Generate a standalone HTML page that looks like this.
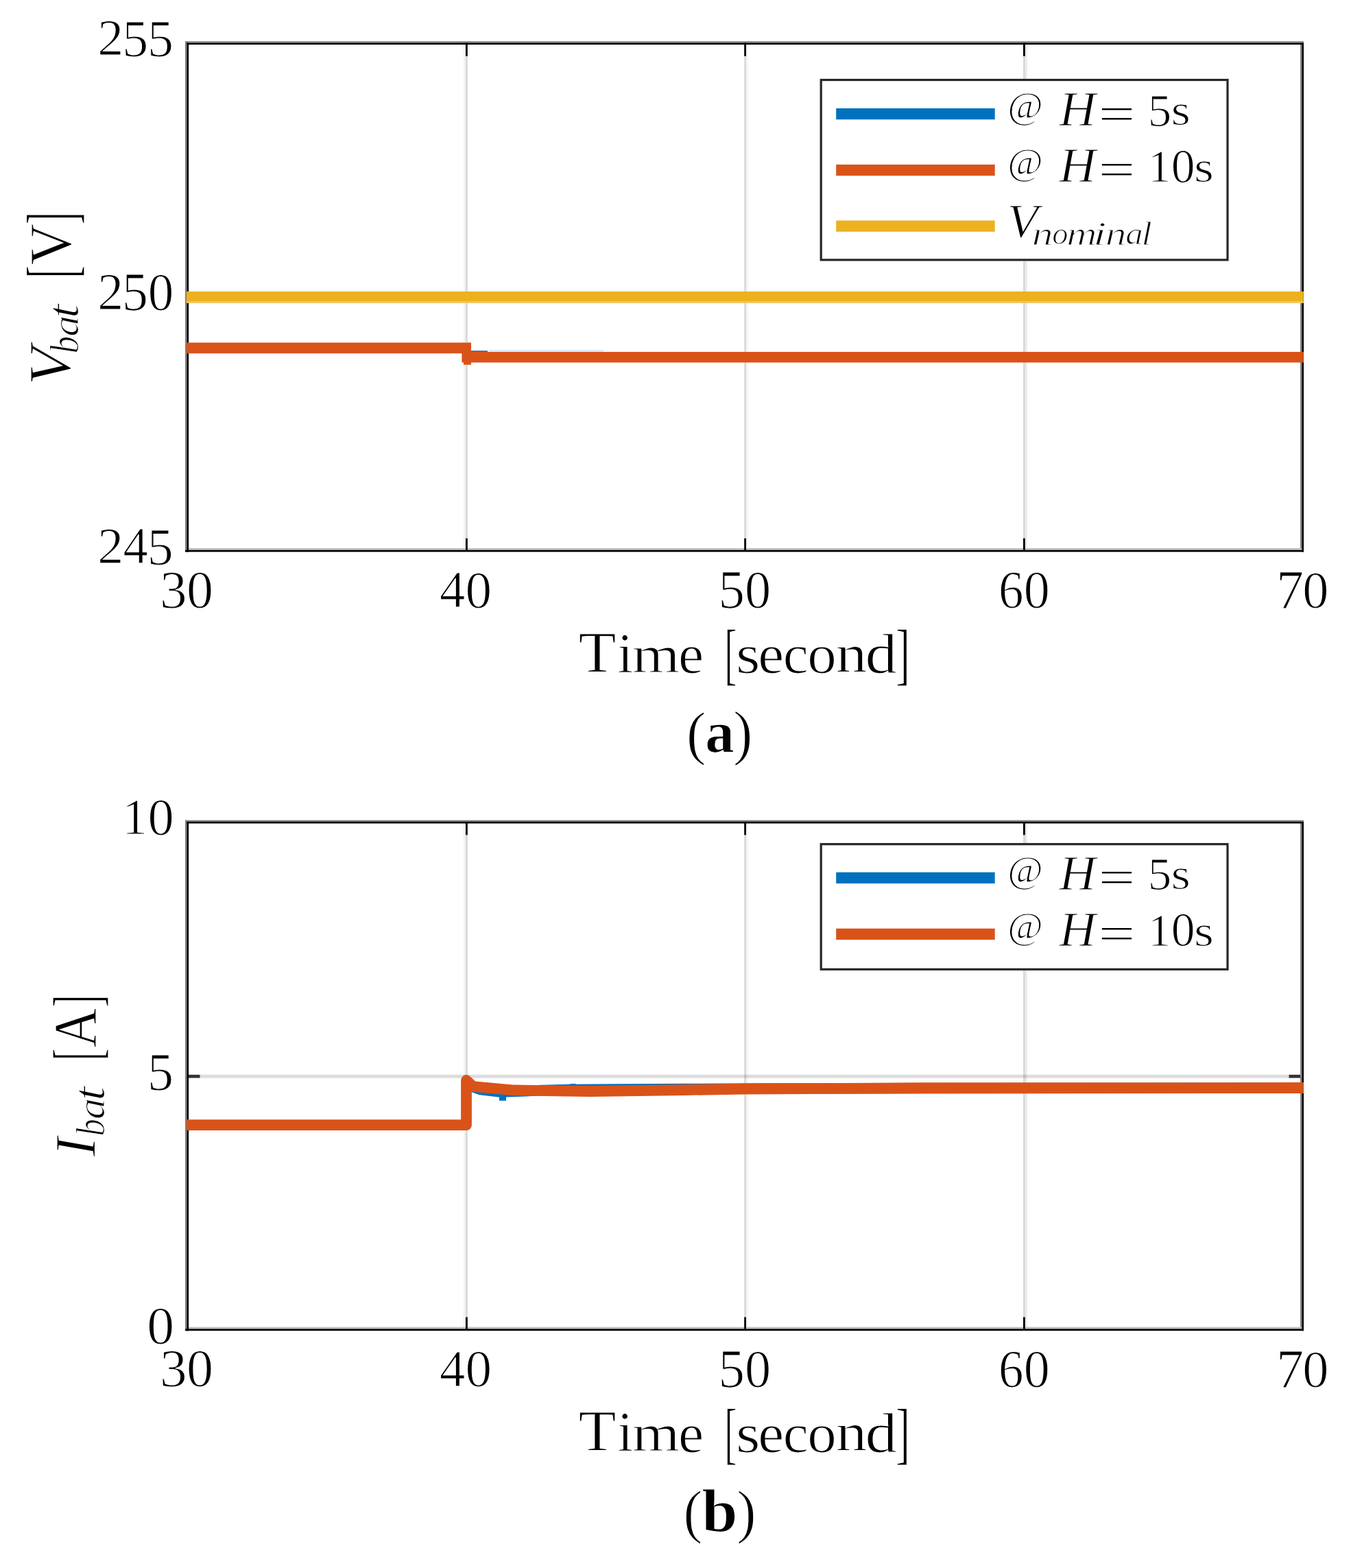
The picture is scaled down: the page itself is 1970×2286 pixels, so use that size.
<!DOCTYPE html><html><head><meta charset="utf-8"><title>Battery voltage and current response</title><style>html,body{margin:0;padding:0;background:#fff;overflow:hidden;}svg{display:block;}text{font-family:'Liberation Serif', 'DejaVu Serif', serif;fill:#000;stroke:#fff;stroke-width:1.2px;}</style></head><body>
<svg width="1970" height="2286" viewBox="0 0 1970 2286">
<rect x="0.00" y="0.00" width="1970.00" height="2286.00" fill="#fff"/>
<rect x="676.00" y="62.60" width="3.00" height="739.70" fill="#000" fill-opacity="0.05"/>
<rect x="679.00" y="62.60" width="2.90" height="739.70" fill="#000" fill-opacity="0.15"/>
<rect x="1088.00" y="62.60" width="3.00" height="739.70" fill="#000" fill-opacity="0.035"/>
<rect x="1085.20" y="62.60" width="2.90" height="739.70" fill="#000" fill-opacity="0.15"/>
<rect x="1494.90" y="62.60" width="3.00" height="739.70" fill="#000" fill-opacity="0.075"/>
<rect x="1492.00" y="62.60" width="2.90" height="739.70" fill="#000" fill-opacity="0.15"/>
<rect x="275.00" y="430.25" width="1621.00" height="5.00" fill="#000" fill-opacity="0.135"/>
<rect x="270.00" y="60.20" width="2.40" height="744.70" fill="#808080"/>
<rect x="270.00" y="60.20" width="1631.00" height="2.30" fill="#808080"/>
<rect x="1896.00" y="62.60" width="2.40" height="739.70" fill="#808080"/>
<rect x="272.40" y="799.20" width="1628.50" height="2.70" fill="#bdbdbd"/>
<rect x="679.00" y="62.60" width="2.80" height="19.20" fill="#000"/>
<rect x="679.00" y="784.80" width="2.80" height="17.50" fill="#000"/>
<rect x="1085.20" y="62.60" width="2.80" height="19.20" fill="#000"/>
<rect x="1085.20" y="784.80" width="2.80" height="17.50" fill="#000"/>
<rect x="1492.00" y="62.60" width="2.80" height="19.20" fill="#000"/>
<rect x="1492.00" y="784.80" width="2.80" height="17.50" fill="#000"/>
<rect x="275.00" y="430.45" width="16.50" height="4.60" fill="#333"/>
<rect x="1879.50" y="430.45" width="16.50" height="4.60" fill="#333"/>
<rect x="272.40" y="62.50" width="2.70" height="742.40" fill="#000"/>
<rect x="272.40" y="62.50" width="1628.50" height="2.50" fill="#000"/>
<rect x="1898.40" y="62.50" width="2.60" height="742.30" fill="#000"/>
<rect x="270.00" y="801.90" width="1631.00" height="2.70" fill="#000"/>
<rect x="271.90" y="425.00" width="1628.90" height="14.00" fill="#EDB120"/>
<rect x="271.90" y="439.00" width="1628.90" height="2.90" fill="#f0c55c"/>
<path d="M713 511.4 L880 511.4" stroke="#d3e5f4" stroke-width="2.4" fill="none"/>
<path d="M687 512.2 L711 512.2" stroke="#3a6aa5" stroke-width="2" fill="none"/>
<path d="M271.9 499.6 H687 V513.0 H1900.8 V528.6 H687 V531.7 H676 V528.6 H673.4 V515.2 H271.9 Z" fill="#D95319"/>
<rect x="1195.60" y="114.90" width="596.00" height="265.60" fill="#fff"/>
<rect x="1197.20" y="116.50" width="592.80" height="262.40" fill="none" stroke="#262626" stroke-width="3.2"/>
<rect x="1219.20" y="157.90" width="231.50" height="16.30" fill="#0072BD"/>
<rect x="1219.20" y="239.90" width="231.50" height="16.30" fill="#D95319"/>
<rect x="1219.20" y="321.50" width="231.50" height="16.30" fill="#EDB120"/>
<rect x="676.00" y="1198.10" width="3.00" height="739.70" fill="#000" fill-opacity="0.05"/>
<rect x="679.00" y="1198.10" width="2.90" height="739.70" fill="#000" fill-opacity="0.15"/>
<rect x="1088.00" y="1198.10" width="3.00" height="739.70" fill="#000" fill-opacity="0.035"/>
<rect x="1085.20" y="1198.10" width="2.90" height="739.70" fill="#000" fill-opacity="0.15"/>
<rect x="1494.90" y="1198.10" width="3.00" height="739.70" fill="#000" fill-opacity="0.075"/>
<rect x="1492.00" y="1198.10" width="2.90" height="739.70" fill="#000" fill-opacity="0.15"/>
<rect x="275.00" y="1566.70" width="1621.00" height="5.00" fill="#000" fill-opacity="0.135"/>
<rect x="270.00" y="1195.70" width="2.40" height="744.70" fill="#808080"/>
<rect x="270.00" y="1195.70" width="1631.00" height="2.30" fill="#808080"/>
<rect x="1896.00" y="1198.10" width="2.40" height="739.70" fill="#808080"/>
<rect x="272.40" y="1934.70" width="1628.50" height="2.70" fill="#bdbdbd"/>
<rect x="679.00" y="1198.10" width="2.80" height="19.20" fill="#000"/>
<rect x="679.00" y="1920.30" width="2.80" height="17.50" fill="#000"/>
<rect x="1085.20" y="1198.10" width="2.80" height="19.20" fill="#000"/>
<rect x="1085.20" y="1920.30" width="2.80" height="17.50" fill="#000"/>
<rect x="1492.00" y="1198.10" width="2.80" height="19.20" fill="#000"/>
<rect x="1492.00" y="1920.30" width="2.80" height="17.50" fill="#000"/>
<rect x="275.00" y="1566.90" width="16.50" height="4.60" fill="#333"/>
<rect x="1879.50" y="1566.90" width="16.50" height="4.60" fill="#333"/>
<rect x="272.40" y="1198.00" width="2.70" height="742.40" fill="#000"/>
<rect x="272.40" y="1198.00" width="1628.50" height="2.50" fill="#000"/>
<rect x="1898.40" y="1198.00" width="2.60" height="742.30" fill="#000"/>
<rect x="270.00" y="1937.40" width="1631.00" height="2.70" fill="#000"/>
<path d="M680 1577 L688 1584 L700 1588.5 L730 1592 L760 1591 L790 1589.5 L830 1588.5 L900 1588 L1000 1587.5 L1100 1587 L1900.8 1586" fill="none" stroke="#0072BD" stroke-width="15.5" stroke-linejoin="round"/>
<rect x="728" y="1598" width="10" height="6.7" fill="#0072BD"/>
<rect x="831.5" y="1580" width="8" height="4" fill="#0072BD"/>
<path d="M271.9 1640.2 L680 1640.2 L680 1575 L690 1584 L750 1589.5 L860 1591 L1000 1589 L1086 1587.6 L1340 1586.2 L1900.8 1586" fill="none" stroke="#D95319" stroke-width="15.8" stroke-linejoin="round"/>
<rect x="1195.60" y="1229.10" width="596.00" height="185.70" fill="#fff"/>
<rect x="1197.20" y="1230.70" width="592.80" height="182.50" fill="none" stroke="#262626" stroke-width="3.2"/>
<rect x="1219.20" y="1271.70" width="231.50" height="16.30" fill="#0072BD"/>
<rect x="1219.20" y="1353.70" width="231.50" height="16.30" fill="#D95319"/>
<text><tspan x="232.99" y="885.87" font-size="77.60" textLength="39.67" lengthAdjust="spacingAndGlyphs">3</tspan><tspan x="271.93" y="885.87" font-size="77.60" textLength="39.04" lengthAdjust="spacingAndGlyphs">0</tspan></text>
<text><tspan x="640.90" y="885.32" font-size="76.77" textLength="37.29" lengthAdjust="spacingAndGlyphs">4</tspan><tspan x="678.41" y="885.98" font-size="76.55" textLength="38.63" lengthAdjust="spacingAndGlyphs">0</tspan></text>
<text><tspan x="1047.55" y="887.14" font-size="79.82" textLength="38.45" lengthAdjust="spacingAndGlyphs">5</tspan><tspan x="1085.88" y="886.16" font-size="78.34" textLength="38.12" lengthAdjust="spacingAndGlyphs">0</tspan></text>
<text><tspan x="1455.92" y="886.06" font-size="78.19" textLength="36.47" lengthAdjust="spacingAndGlyphs">6</tspan><tspan x="1492.73" y="886.06" font-size="78.19" textLength="38.07" lengthAdjust="spacingAndGlyphs">0</tspan></text>
<text><tspan x="1860.94" y="887.04" font-size="79.67" textLength="40.14" lengthAdjust="spacingAndGlyphs">7</tspan><tspan x="1899.16" y="886.08" font-size="77.10" textLength="38.25" lengthAdjust="spacingAndGlyphs">0</tspan></text>
<text><tspan x="232.99" y="2021.37" font-size="77.60" textLength="39.67" lengthAdjust="spacingAndGlyphs">3</tspan><tspan x="271.93" y="2021.37" font-size="77.60" textLength="39.04" lengthAdjust="spacingAndGlyphs">0</tspan></text>
<text><tspan x="640.90" y="2020.82" font-size="76.77" textLength="37.29" lengthAdjust="spacingAndGlyphs">4</tspan><tspan x="678.41" y="2021.48" font-size="76.55" textLength="38.63" lengthAdjust="spacingAndGlyphs">0</tspan></text>
<text><tspan x="1047.55" y="2022.64" font-size="79.82" textLength="38.45" lengthAdjust="spacingAndGlyphs">5</tspan><tspan x="1085.88" y="2021.66" font-size="78.34" textLength="38.12" lengthAdjust="spacingAndGlyphs">0</tspan></text>
<text><tspan x="1455.92" y="2021.56" font-size="78.19" textLength="36.47" lengthAdjust="spacingAndGlyphs">6</tspan><tspan x="1492.73" y="2021.56" font-size="78.19" textLength="38.07" lengthAdjust="spacingAndGlyphs">0</tspan></text>
<text><tspan x="1860.94" y="2022.54" font-size="79.67" textLength="40.14" lengthAdjust="spacingAndGlyphs">7</tspan><tspan x="1899.16" y="2021.58" font-size="77.10" textLength="38.25" lengthAdjust="spacingAndGlyphs">0</tspan></text>
<text><tspan x="142.36" y="80.46" font-size="73.96" textLength="38.00" lengthAdjust="spacingAndGlyphs">2</tspan><tspan x="178.15" y="82.04" font-size="76.35" textLength="38.00" lengthAdjust="spacingAndGlyphs">5</tspan><tspan x="214.89" y="82.04" font-size="76.35" textLength="38.00" lengthAdjust="spacingAndGlyphs">5</tspan></text>
<text><tspan x="142.37" y="451.39" font-size="76.88" textLength="37.89" lengthAdjust="spacingAndGlyphs">2</tspan><tspan x="178.06" y="453.04" font-size="79.37" textLength="37.89" lengthAdjust="spacingAndGlyphs">5</tspan><tspan x="215.80" y="452.07" font-size="77.90" textLength="37.56" lengthAdjust="spacingAndGlyphs">0</tspan></text>
<text><tspan x="142.36" y="821.45" font-size="74.26" textLength="37.96" lengthAdjust="spacingAndGlyphs">2</tspan><tspan x="179.43" y="821.45" font-size="75.46" textLength="36.32" lengthAdjust="spacingAndGlyphs">4</tspan><tspan x="214.82" y="823.04" font-size="76.66" textLength="37.96" lengthAdjust="spacingAndGlyphs">5</tspan></text>
<text><tspan x="178.33" y="1216.04" font-size="74.54" textLength="36.72" lengthAdjust="spacingAndGlyphs">1</tspan><tspan x="215.47" y="1216.70" font-size="75.53" textLength="38.23" lengthAdjust="spacingAndGlyphs">0</tspan></text>
<text><tspan x="214.91" y="1589.04" font-size="79.22" textLength="37.97" lengthAdjust="spacingAndGlyphs">5</tspan></text>
<text><tspan x="214.17" y="1959.06" font-size="78.04" textLength="39.86" lengthAdjust="spacingAndGlyphs">0</tspan></text>
<text><tspan x="843.43" y="979.94" font-size="83.59" textLength="54.98" lengthAdjust="spacingAndGlyphs">T</tspan><tspan x="900.19" y="979.94" font-size="83.14" textLength="23.02" lengthAdjust="spacingAndGlyphs">i</tspan><tspan x="921.82" y="979.94" font-size="77.01" textLength="69.59" lengthAdjust="spacingAndGlyphs">m</tspan><tspan x="989.02" y="981.05" font-size="79.34" textLength="37.14" lengthAdjust="spacingAndGlyphs">e</tspan><tspan> </tspan><tspan x="1056.47" y="987.19" font-size="99.25" textLength="17.73" lengthAdjust="spacingAndGlyphs">[</tspan><tspan x="1072.94" y="981.44" font-size="80.37" textLength="35.47" lengthAdjust="spacingAndGlyphs">s</tspan><tspan x="1105.36" y="981.44" font-size="80.37" textLength="37.85" lengthAdjust="spacingAndGlyphs">e</tspan><tspan x="1141.73" y="981.44" font-size="80.37" textLength="37.02" lengthAdjust="spacingAndGlyphs">c</tspan><tspan x="1177.38" y="981.44" font-size="80.37" textLength="42.45" lengthAdjust="spacingAndGlyphs">o</tspan><tspan x="1218.78" y="979.84" font-size="79.09" textLength="45.60" lengthAdjust="spacingAndGlyphs">n</tspan><tspan x="1261.45" y="981.40" font-size="83.40" textLength="46.87" lengthAdjust="spacingAndGlyphs">d</tspan><tspan x="1306.11" y="987.19" font-size="99.25" textLength="20.84" lengthAdjust="spacingAndGlyphs">]</tspan></text>
<text><tspan x="843.43" y="2115.44" font-size="83.59" textLength="54.98" lengthAdjust="spacingAndGlyphs">T</tspan><tspan x="900.19" y="2115.44" font-size="83.14" textLength="23.02" lengthAdjust="spacingAndGlyphs">i</tspan><tspan x="921.82" y="2115.44" font-size="77.01" textLength="69.59" lengthAdjust="spacingAndGlyphs">m</tspan><tspan x="989.02" y="2116.55" font-size="79.34" textLength="37.14" lengthAdjust="spacingAndGlyphs">e</tspan><tspan> </tspan><tspan x="1056.47" y="2122.69" font-size="99.25" textLength="17.73" lengthAdjust="spacingAndGlyphs">[</tspan><tspan x="1072.94" y="2116.94" font-size="80.37" textLength="35.47" lengthAdjust="spacingAndGlyphs">s</tspan><tspan x="1105.36" y="2116.94" font-size="80.37" textLength="37.85" lengthAdjust="spacingAndGlyphs">e</tspan><tspan x="1141.73" y="2116.94" font-size="80.37" textLength="37.02" lengthAdjust="spacingAndGlyphs">c</tspan><tspan x="1177.38" y="2116.94" font-size="80.37" textLength="42.45" lengthAdjust="spacingAndGlyphs">o</tspan><tspan x="1218.78" y="2115.34" font-size="79.09" textLength="45.60" lengthAdjust="spacingAndGlyphs">n</tspan><tspan x="1261.45" y="2116.90" font-size="83.40" textLength="46.87" lengthAdjust="spacingAndGlyphs">d</tspan><tspan x="1306.11" y="2122.69" font-size="99.25" textLength="20.84" lengthAdjust="spacingAndGlyphs">]</tspan></text>
<text><tspan x="1001.00" y="1098.10" font-size="86.77" textLength="28.35" lengthAdjust="spacingAndGlyphs">(</tspan><tspan x="1028.27" y="1097.46" font-size="86.52" font-weight="bold" textLength="42.53" lengthAdjust="spacingAndGlyphs">a</tspan><tspan x="1069.30" y="1097.84" font-size="87.98" textLength="28.08" lengthAdjust="spacingAndGlyphs">)</tspan></text>
<text><tspan x="996.38" y="2232.92" font-size="86.22" textLength="27.81" lengthAdjust="spacingAndGlyphs">(</tspan><tspan x="1023.28" y="2233.32" font-size="89.66" font-weight="bold" textLength="52.37" lengthAdjust="spacingAndGlyphs">b</tspan><tspan x="1074.27" y="2232.66" font-size="87.42" textLength="28.35" lengthAdjust="spacingAndGlyphs">)</tspan></text>
<text><tspan x="1469.16" y="172.49" font-size="55.74" textLength="51.66" lengthAdjust="spacingAndGlyphs">@</tspan><tspan> </tspan><tspan x="1544.59" y="183.24" font-size="71.37" font-style="italic" textLength="53.65" lengthAdjust="spacingAndGlyphs">H</tspan><tspan x="1601.24" y="189.51" font-size="69.52" textLength="54.36" lengthAdjust="spacingAndGlyphs">=</tspan><tspan> </tspan><tspan x="1673.75" y="183.64" font-size="68.50" textLength="34.48" lengthAdjust="spacingAndGlyphs">5</tspan><tspan x="1707.40" y="182.15" font-size="62.84" textLength="28.39" lengthAdjust="spacingAndGlyphs">s</tspan></text>
<text><tspan x="1469.16" y="253.82" font-size="55.04" textLength="51.66" lengthAdjust="spacingAndGlyphs">@</tspan><tspan> </tspan><tspan x="1544.59" y="264.74" font-size="71.52" font-style="italic" textLength="53.65" lengthAdjust="spacingAndGlyphs">H</tspan><tspan x="1601.24" y="271.21" font-size="69.52" textLength="54.36" lengthAdjust="spacingAndGlyphs">=</tspan><tspan> </tspan><tspan x="1674.00" y="265.09" font-size="67.97" textLength="33.48" lengthAdjust="spacingAndGlyphs">1</tspan><tspan x="1707.73" y="265.68" font-size="68.86" textLength="34.82" lengthAdjust="spacingAndGlyphs">0</tspan><tspan x="1741.02" y="265.01" font-size="64.35" textLength="28.93" lengthAdjust="spacingAndGlyphs">s</tspan></text>
<text><tspan x="1469.16" y="1286.29" font-size="55.74" textLength="51.66" lengthAdjust="spacingAndGlyphs">@</tspan><tspan> </tspan><tspan x="1544.59" y="1297.04" font-size="71.37" font-style="italic" textLength="53.65" lengthAdjust="spacingAndGlyphs">H</tspan><tspan x="1601.24" y="1303.31" font-size="69.52" textLength="54.36" lengthAdjust="spacingAndGlyphs">=</tspan><tspan> </tspan><tspan x="1673.75" y="1297.44" font-size="68.50" textLength="34.48" lengthAdjust="spacingAndGlyphs">5</tspan><tspan x="1707.40" y="1295.95" font-size="62.84" textLength="28.39" lengthAdjust="spacingAndGlyphs">s</tspan></text>
<text><tspan x="1469.16" y="1367.62" font-size="55.04" textLength="51.66" lengthAdjust="spacingAndGlyphs">@</tspan><tspan> </tspan><tspan x="1544.59" y="1378.54" font-size="71.52" font-style="italic" textLength="53.65" lengthAdjust="spacingAndGlyphs">H</tspan><tspan x="1601.24" y="1385.01" font-size="69.52" textLength="54.36" lengthAdjust="spacingAndGlyphs">=</tspan><tspan> </tspan><tspan x="1674.00" y="1378.89" font-size="67.97" textLength="33.48" lengthAdjust="spacingAndGlyphs">1</tspan><tspan x="1707.73" y="1379.48" font-size="68.86" textLength="34.82" lengthAdjust="spacingAndGlyphs">0</tspan><tspan x="1741.02" y="1378.81" font-size="64.35" textLength="28.93" lengthAdjust="spacingAndGlyphs">s</tspan></text>
<text><tspan x="1468.56" y="345.86" font-size="70.34" font-style="italic" textLength="45.18" lengthAdjust="spacingAndGlyphs">V</tspan><tspan x="1504.85" y="356.74" font-size="48.04" font-style="italic" textLength="30.84" lengthAdjust="spacingAndGlyphs">n</tspan><tspan x="1534.38" y="356.17" font-size="45.58" font-style="italic" textLength="23.25" lengthAdjust="spacingAndGlyphs">o</tspan><tspan x="1555.18" y="356.74" font-size="48.04" font-style="italic" textLength="44.25" lengthAdjust="spacingAndGlyphs">m</tspan><tspan x="1593.75" y="356.74" font-size="48.97" font-style="italic" textLength="19.74" lengthAdjust="spacingAndGlyphs">i</tspan><tspan x="1611.87" y="356.74" font-size="48.04" font-style="italic" textLength="30.84" lengthAdjust="spacingAndGlyphs">n</tspan><tspan x="1641.24" y="356.17" font-size="45.58" font-style="italic" textLength="25.51" lengthAdjust="spacingAndGlyphs">a</tspan><tspan x="1664.49" y="356.74" font-size="48.54" font-style="italic" textLength="15.29" lengthAdjust="spacingAndGlyphs">l</tspan></text>
<text transform="rotate(-90)"><tspan x="-561.45" y="102.26" font-size="86.19" font-style="italic" textLength="55.05" lengthAdjust="spacingAndGlyphs">V</tspan><tspan x="-515.23" y="113.80" font-size="59.54" font-style="italic" textLength="25.16" lengthAdjust="spacingAndGlyphs">b</tspan><tspan x="-490.88" y="113.84" font-size="55.73" font-style="italic" textLength="31.01" lengthAdjust="spacingAndGlyphs">a</tspan><tspan x="-463.91" y="113.72" font-size="65.68" font-style="italic" textLength="20.61" lengthAdjust="spacingAndGlyphs">t</tspan><tspan> </tspan><tspan x="-405.33" y="108.79" font-size="100.70" textLength="17.73" lengthAdjust="spacingAndGlyphs">[</tspan><tspan x="-386.39" y="102.56" font-size="86.64" textLength="60.54" lengthAdjust="spacingAndGlyphs">V</tspan><tspan x="-326.95" y="108.79" font-size="100.70" textLength="17.88" lengthAdjust="spacingAndGlyphs">]</tspan></text>
<text transform="rotate(-90)"><tspan x="-1686.04" y="139.24" font-size="84.50" font-style="italic" textLength="28.14" lengthAdjust="spacingAndGlyphs">I</tspan><tspan x="-1656.54" y="151.69" font-size="59.83" font-style="italic" textLength="25.36" lengthAdjust="spacingAndGlyphs">b</tspan><tspan x="-1631.99" y="151.74" font-size="55.99" font-style="italic" textLength="31.26" lengthAdjust="spacingAndGlyphs">a</tspan><tspan x="-1604.79" y="151.62" font-size="65.99" font-style="italic" textLength="20.77" lengthAdjust="spacingAndGlyphs">t</tspan><tspan> </tspan><tspan x="-1546.03" y="144.76" font-size="97.31" textLength="17.29" lengthAdjust="spacingAndGlyphs">[</tspan><tspan x="-1527.23" y="139.14" font-size="88.72" textLength="57.44" lengthAdjust="spacingAndGlyphs">A</tspan><tspan x="-1468.35" y="144.76" font-size="97.31" textLength="17.88" lengthAdjust="spacingAndGlyphs">]</tspan></text>
</svg></body></html>
